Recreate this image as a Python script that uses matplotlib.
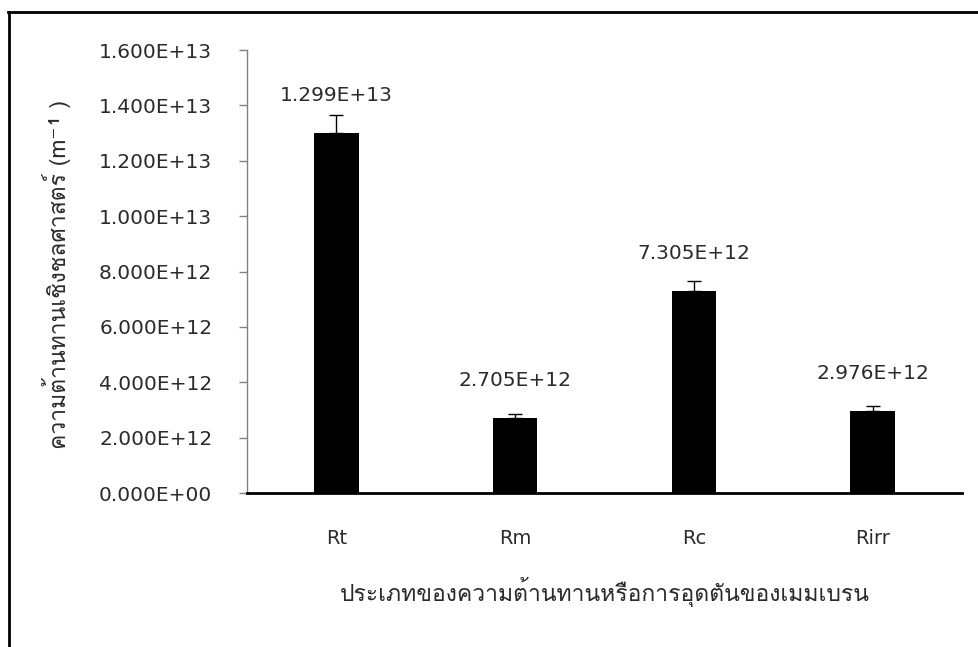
import matplotlib
matplotlib.use("Agg")
import matplotlib.pyplot as plt
from matplotlib import font_manager
from matplotlib.ft2font import FT2Font
from matplotlib.lines import Line2D

categories = ["Rt", "Rm", "Rc", "Rirr"]
values = [1.299e13, 2.705e12, 7.305e12, 2.976e12]
errors = [6.6e11, 1.5e11, 3.7e11, 1.7e11]
value_labels = ["1.299E+13", "2.705E+12", "7.305E+12", "2.976E+12"]
yticks = [0, 2e12, 4e12, 6e12, 8e12, 1e13, 1.2e13, 1.4e13, 1.6e13]

xlabel = "ประเภทของความต้านทานหรือการอุดตันของเมมเบรน"
ylabel = "ความต้านทานเชิงชลศาสตร์ (m⁻¹ )"


def find_thai_font():
    # look for any installed font that has Thai glyphs
    for f in font_manager.fontManager.ttflist:
        try:
            if 0x0E01 in FT2Font(f.fname).get_charmap():
                return f.name
        except Exception:
            pass
    return None


thai = find_thai_font()
thai_fam = ([thai] if thai else []) + ["DejaVu Sans"]
plt.rcParams["font.family"] = ["DejaVu Sans"]
txt = "#2a2a2a"

fig = plt.figure(figsize=(9.79, 6.47), dpi=100)
ax = fig.add_axes([0.2523, 0.238, 0.7303, 0.6847])

x = range(len(categories))
ax.bar(x, values, width=0.25, color="black", zorder=2)
ax.errorbar(x, values, yerr=[[0] * len(errors), errors], fmt="none",
            ecolor="black", elinewidth=1, capsize=5, capthick=1, zorder=3)

for xi, v, lab in zip(x, values, value_labels):
    ax.annotate(lab, (xi, v), xytext=(0, 27), textcoords="offset points",
                ha="center", va="center", fontsize=14.5, color=txt)

ax.set_xlim(-0.5, 3.5)
ax.set_ylim(0, 1.6e13)
ax.set_yticks(yticks)
ax.set_yticklabels([f"{t:.3E}" for t in yticks])
ax.set_xticks(list(x))
ax.set_xticklabels(categories)

ax.tick_params(axis="y", length=6, width=1, color="#808080", labelsize=14.5,
               labelcolor=txt, pad=19)
ax.tick_params(axis="x", length=0, labelsize=14, labelcolor=txt, pad=26)

for s in ["top", "right"]:
    ax.spines[s].set_visible(False)
ax.spines["left"].set_color("#808080")
ax.spines["left"].set_linewidth(1)
ax.spines["bottom"].set_color("black")
ax.spines["bottom"].set_linewidth(2)

ax.set_xlabel(xlabel, fontsize=16.5, color=txt, labelpad=21, family=thai_fam)
fig.text(0.058, 0.5765, ylabel, rotation=90, ha="center", va="center",
         fontsize=16.5, color=txt, family=thai_fam)

# frame around the whole chart (cut off at right and bottom)
fig.add_artist(Line2D([8 / 979, 1], [1 - 12 / 647] * 2, color="black", lw=2,
                      transform=fig.transFigure))
fig.add_artist(Line2D([9 / 979] * 2, [0, 1 - 12 / 647], color="black", lw=2,
                      transform=fig.transFigure))

fig.savefig("out.png", dpi=100)
